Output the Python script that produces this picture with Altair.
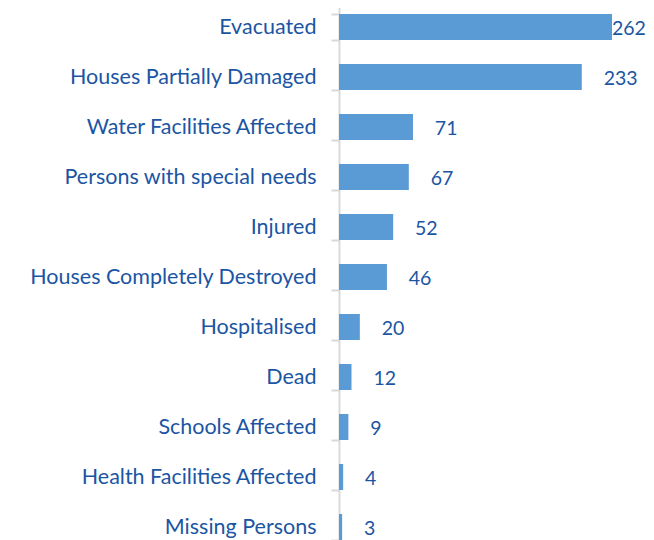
import altair as alt
import pandas as pd

categories = ["Evacuated", "Houses Partially Damaged", "Water Facilities Affected",
              "Persons with special needs", "Injured", "Houses Completely Destroyed",
              "Hospitalised", "Dead", "Schools Affected", "Health Facilities Affected",
              "Missing Persons"]
values = [262, 233, 71, 67, 52, 46, 20, 12, 9, 4, 3]

df = pd.DataFrame({"category": categories, "value": values})

TEXT = "#1B55A3"
FONT = "Lato"

y = alt.Y("category:N", sort=categories, title=None,
          scale=alt.Scale(paddingInner=0.48, paddingOuter=0.24, range=[-6, 544]),
          axis=alt.Axis(labelFont=FONT, labelFontSize=21.5, labelColor=TEXT,
                        labelPadding=15, tickSize=8, tickColor="#d9d9d9",
                        tickBand="extent", domainColor="#d9d9d9", domainWidth=2,
                        tickWidth=2, labelLimit=400))

bars = alt.Chart(df).mark_bar(color="#5B9BD5").encode(
    x=alt.X("value:Q", scale=alt.Scale(domain=[0, 262], nice=False), axis=None),
    y=y,
)

labels = alt.Chart(df).transform_calculate(
    pos="min(datum.value + 21, 262)"
).mark_text(align="left", baseline="middle", dy=2, font=FONT, fontSize=19.5,
            color=TEXT).encode(
    x=alt.X("pos:Q"),
    y=y,
    text="value:Q",
)

chart = alt.layer(bars, labels).properties(
    width=273, height=532,
    autosize=alt.AutoSizeParams(type="none"),
    padding={"top": 0, "left": 331, "right": 34, "bottom": 0}
).configure_view(stroke=None)

chart.save("out.html", embed_options={"renderer": "svg", "actions": False})
